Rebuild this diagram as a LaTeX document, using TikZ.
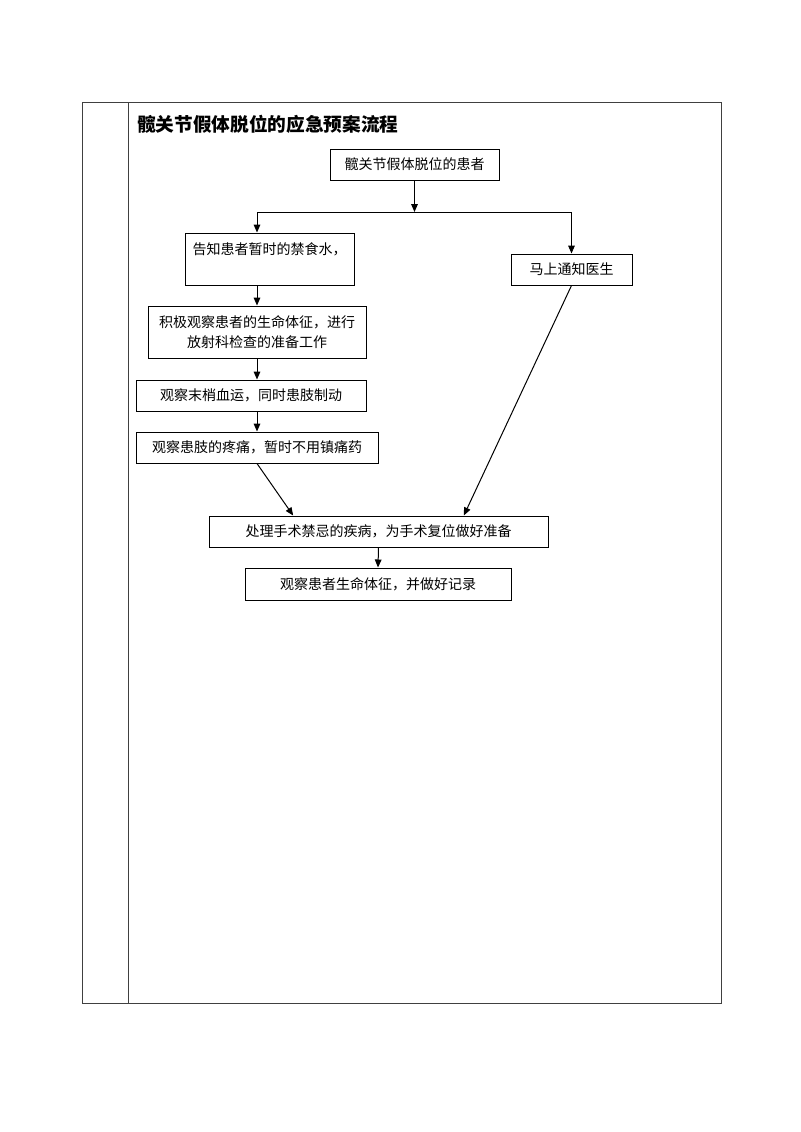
\documentclass[tikz,border=0pt]{standalone}
\usepackage{fontspec}
\usepackage{amssymb}
\usetikzlibrary{arrows.meta}
\newfontfamily\cjk{Noto Sans CJK SC}

\begin{document}
\begin{tikzpicture}
    [x=0.75pt, y=-0.75pt,
     block/.style={rectangle, draw, line width=0.75pt, align=center, inner sep=0pt,
                   font=\cjk\fontsize{10.5pt}{15pt}\selectfont},
     arr/.style={-{Triangle[length=6pt,width=5pt]}, line width=0.75pt}]
    \useasboundingbox (0,0) rectangle (800,1132);
    % table frame
    \draw[black!75, line width=0.75pt] (82,102) rectangle (721,1003);
    \draw[black!75, line width=0.75pt] (128,102) -- (128,1003);
    \node[anchor=west, inner sep=0pt, font=\cjk\bfseries\fontsize{14pt}{16pt}\selectfont]
        (title) at (137,124) {髋关节假体脱位的应急预案流程};
    % boxes
    \node[block, minimum width=126.75pt, minimum height=23.25pt] (b1) at (414.5,164.5) {髋关节假体脱位的患者};
    \node[block, minimum width=126.75pt, minimum height=39pt] (b2) at (269.5,259) {告知患者暂时的禁食水，\\ \mbox{}};
    \node[block, minimum width=90.75pt, minimum height=23.25pt] (b3) at (571.5,269.5) {马上通知医生};
    \node[block, minimum width=163.5pt, minimum height=39pt] (b4) at (257,332) {积极观察患者的生命体征，进行\\放射科检查的准备工作};
    \node[block, minimum width=172.5pt, minimum height=23.25pt] (b5) at (251,395.5) {观察末梢血运，同时患肢制动};
    \node[block, minimum width=181.5pt, minimum height=23.25pt] (b6) at (257,447.5) {观察患肢的疼痛，暂时不用镇痛药};
    \node[block, minimum width=254.25pt, minimum height=23.25pt] (b7) at (378.5,531.5) {处理手术禁忌的疾病，为手术复位做好准备};
    \node[block, minimum width=199.5pt, minimum height=24pt] (b8) at (378,584) {观察患者生命体征，并做好记录};
    % connectors
    \coordinate (split) at (414.5,212);
    \draw[arr] (b1.south) -- (split);
    \draw[line width=0.75pt] (split -| b4.north) -- (split -| b3.north);
    \draw[arr] (split -| b4.north) -- (b2.north -| b4.north);
    \draw[arr] (split -| b3.north) -- (b3.north);
    \draw[arr] (b2.south -| b4.north) -- (b4.north);
    \draw[arr] (b4.south) -- (b4.south |- b5.north);
    \draw[arr] (b4.south |- b5.south) -- (b6.north);
    \draw[arr] (b6.south) -- ([xshift=-64pt]b7.north);
    \draw[arr] (b3.south) -- ([xshift=64pt]b7.north);
    \draw[arr] (b7.south) -- (b8.north);
\end{tikzpicture}
\end{document}
